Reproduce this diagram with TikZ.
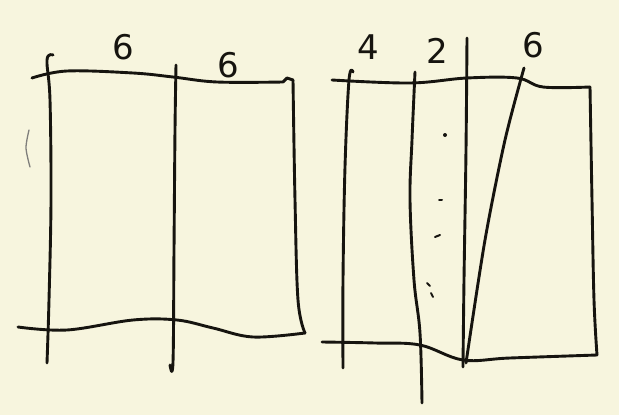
\documentclass[tikz,border=0pt]{standalone}
\usepackage{fontspec}
\setmainfont{DejaVu Sans}
\definecolor{paper}{RGB}{247,245,222}
\definecolor{ink}{RGB}{22,20,15}
\begin{document}
\begin{tikzpicture}[x=1pt,y=-1pt,
  pen/.style={draw=ink,line width=2.9pt,line cap=round,line join=round},
  thin/.style={draw=ink!55,line width=1.3pt,line cap=round},
  lbl/.style={text=ink,font=\fontsize{34}{36}\selectfont,inner sep=0pt}]
\fill[paper] (0,0) rectangle (619,415);
\useasboundingbox (0,0) rectangle (619,415);
% ---- left panel ----
\draw[pen] plot[smooth,tension=0.6] coordinates {(32,78) (67,71) (133,73) (173,77) (217,82) (283,82)}
  -- (287,78) -- (293,80);
\draw[pen] plot[smooth,tension=0.6] coordinates {(293,80) (295,200) (298,300) (305,333)};
\draw[pen] plot[smooth,tension=0.6] coordinates {(18,327) (67,330) (133,320) (177,320) (213,328) (253,337) (305,333)};
\draw[pen] plot[smooth,tension=0.6] coordinates {(53,55) (47,60) (50,100) (51,200) (49,300) (47,363)};
\draw[pen] plot[smooth,tension=0.6] coordinates {(176,65) (175,130) (174,250) (173,362) (170,365)};
\draw[thin] plot[smooth] coordinates {(29,130) (26,148) (30,167)};
\node[lbl] (a6) at (123,47) {6};
\node[lbl] (b6) at (228,65) {6};
% ---- right panel ----
\draw[pen] plot[smooth,tension=0.6] coordinates {(332,80) (410,83) (467,78) (517,78) (543,87) (590,87)};
\draw[pen] plot[smooth,tension=0.6] coordinates {(590,87) (592,200) (594,300) (597,355)};
\draw[pen] plot[smooth,tension=0.6] coordinates {(322,342) (375,343) (420,345) (463,360) (510,358) (597,355)};
\draw[pen] plot[smooth,tension=0.6] coordinates {(353,72) (349,80) (345,167) (343,280) (343,368)};
\draw[pen] plot[smooth,tension=0.6] coordinates {(415,72) (412,140) (410,200) (414,280) (420,333) (422,403)};
\draw[pen] plot[smooth,tension=0.6] coordinates {(467,38) (466,150) (464,280) (463,367)};
\draw[pen] plot[smooth,tension=0.5] coordinates {(524,68) (505,140) (485,240) (466,363)};
\fill[ink] (445,135) circle (2);
\draw[pen,line width=2pt] (439,200) -- (442,200);
\draw[pen,line width=2pt] (435,237) -- (440,235);
\draw[pen,line width=1.8pt] (427,283) -- (430,286);
\draw[pen,line width=1.8pt] (431,293) -- (433,297);
\node[lbl] (c4) at (368,47) {4};
\node[lbl] (d2) at (437,51) {2};
\node[lbl] (e6) at (533,45) {6};
\end{tikzpicture}
\end{document}
